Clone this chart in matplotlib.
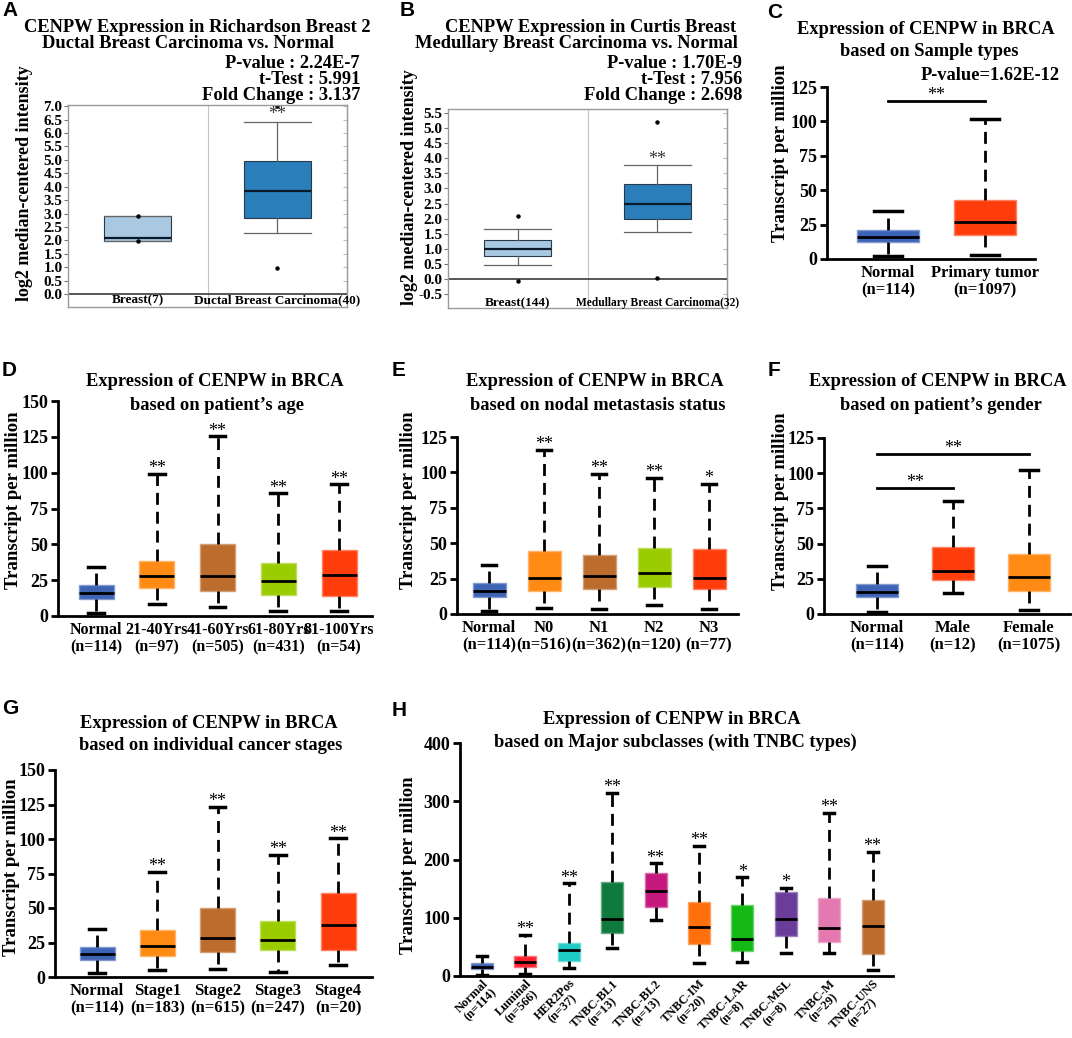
import numpy as np
import matplotlib
matplotlib.use("Agg")
import matplotlib.pyplot as plt
from matplotlib.colors import to_rgb

W, H = 1072, 1038

plt.rcParams['font.family'] = ['Liberation Serif', 'DejaVu Serif']
plt.rcParams['font.weight'] = 'bold'
plt.rcParams['axes.labelweight'] = 'bold'

# ---------------- datos ----------------
# A: Richardson Breast 2 (Oncomine)
a_labels = ["Breast(7)", "Ductal Breast Carcinoma(40)"]
a_q1 = [1.96, 2.85]
a_med = [2.09, 3.82]
a_q3 = [2.89, 4.97]
a_lo = [1.96, 2.27]
a_hi = [2.89, 6.42]
a_out = [[2.89, 1.96], [7.0, 0.97]]
a_stats = ["P-value : 2.24E-7", "t-Test : 5.991", "Fold Change : 3.137"]

# B: Curtis Breast (Oncomine)
b_labels = ["Breast(144)", "Medullary Breast Carcinoma(32)"]
b_q1 = [0.77, 2.00]
b_med = [0.99, 2.47]
b_q3 = [1.28, 3.15]
b_lo = [0.48, 1.56]
b_hi = [1.64, 3.76]
b_out = [[2.10, -0.06], [5.20, 0.05]]
b_stats = ["P-value : 1.70E-9", "t-Test : 7.956", "Fold Change : 2.698"]

# C: sample types
c_labels = ["Normal\n(n=114)", "Primary tumor\n(n=1097)"]
c_q1 = [12.4, 17.2]
c_med = [16.2, 26.6]
c_q3 = [20.8, 42.9]
c_lo = [2.4, 3.1]
c_hi = [34.6, 102.0]
c_sig = 114.6

# D: age
d_labels = ["Normal\n(n=114)", "21-40Yrs\n(n=97)", "41-60Yrs\n(n=505)",
            "61-80Yrs\n(n=431)", "81-100Yrs\n(n=54)"]
d_q1 = [11.6, 19.7, 17.6, 14.6, 14.1]
d_med = [16.2, 28.1, 27.9, 24.6, 28.5]
d_q3 = [21.4, 38.1, 49.9, 37.1, 45.7]
d_lo = [2.3, 8.4, 6.5, 3.3, 3.3]
d_hi = [34.3, 99.4, 125.3, 85.6, 91.9]
d_stars = ["", "**", "**", "**", "**"]

# E: nodal metastasis
e_labels = ["Normal\n(n=114)", "N0\n(n=516)", "N1\n(n=362)", "N2\n(n=120)", "N3\n(n=77)"]
e_q1 = [12.3, 16.3, 17.5, 19.3, 17.7]
e_med = [16.3, 25.7, 27.1, 28.8, 25.7]
e_q3 = [21.7, 44.8, 41.8, 46.9, 45.8]
e_lo = [2.4, 4.4, 3.6, 6.6, 3.6]
e_hi = [34.7, 116.0, 98.9, 96.0, 92.0]
e_stars = ["", "**", "**", "**", "*"]

# F: gender
f_labels = ["Normal\n(n=114)", "Male\n(n=12)", "Female\n(n=1075)"]
f_q1 = [11.8, 24.1, 16.3]
f_med = [15.8, 30.5, 26.2]
f_q3 = [21.3, 47.7, 42.6]
f_lo = [1.7, 15.0, 2.9]
f_hi = [34.3, 80.4, 102.6]
f_sig = [89.6, 113.5]

# G: stages
g_labels = ["Normal\n(n=114)", "Stage1\n(n=183)", "Stage2\n(n=615)",
            "Stage3\n(n=247)", "Stage4\n(n=20)"]
g_q1 = [12.3, 15.2, 18.4, 19.3, 19.3]
g_med = [16.4, 22.5, 28.5, 26.8, 37.7]
g_q3 = [21.5, 34.0, 49.8, 40.3, 60.6]
g_lo = [3.2, 4.8, 5.5, 3.6, 8.5]
g_hi = [34.8, 76.3, 123.4, 88.4, 100.5]
g_stars = ["", "**", "**", "**", "**"]

# H: subclases
h_labels = ["Normal\n(n=114)", "Luminal\n(n=566)", "HER2Pos\n(n=37)", "TNBC-BL1\n(n=13)",
            "TNBC-BL2\n(n=13)", "TNBC-IM\n(n=20)", "TNBC-LAR\n(n=8)", "TNBC-MSL\n(n=8)",
            "TNBC-M\n(n=29)", "TNBC-UNS\n(n=27)"]
h_q1 = [11.4, 16.0, 26.3, 74.4, 119.0, 54.4, 43.5, 69.2, 58.9, 37.2]
h_med = [16.0, 23.5, 44.6, 98.4, 146.5, 84.1, 63.0, 97.3, 82.9, 85.8]
h_q3 = [21.7, 34.9, 56.1, 160.8, 176.3, 126.5, 121.9, 143.7, 133.4, 130.5]
h_lo = [1.7, 3.4, 14.3, 48.6, 96.1, 22.9, 24.6, 40.0, 40.0, 10.3]
h_hi = [34.3, 70.4, 159.0, 314.7, 193.5, 223.7, 169.4, 151.0, 280.4, 213.4]
h_stars = ["", "**", "**", "**", "**", "**", "*", "*", "**", "**"]

BLUE, ORANGE, BROWN, GREEN, RED = '#3d64b5', '#ff8a14', '#bc6c2c', '#9bcc00', '#ff3d0c'
h_colors = [BLUE, '#ff1f2d', '#1fc9c4', '#0f7a3c', '#c5197d', '#ff6f0a',
            '#15b915', '#6a3d9a', '#e479b0', BROWN]

fig = plt.figure(figsize=(W / 100, H / 100), dpi=100)


def px_rect(left, top, right, bottom):
    return [left / W, 1 - bottom / H, (right - left) / W, (bottom - top) / H]


def ftext(x, y, s, **kw):
    kw.setdefault('ha', 'center')
    kw.setdefault('va', 'center')
    return fig.text(x / W, 1 - y / H, s, **kw)


def lighten(col, f):
    r, g, b = to_rgb(col)
    return (r + (1 - r) * f, g + (1 - g) * f, b + (1 - b) * f)


def set_ylabel_px(ax, rect, text, xpx, ypx, size):
    # xpx = centro del texto girado; el ancla de la etiqueta queda a su derecha
    left, top, right, bottom = rect
    ax.set_ylabel(text, fontsize=size)
    ax.yaxis.set_label_coords((xpx + 8 - left) / (right - left),
                              (bottom - ypx) / (bottom - top))


def panel_oncomine(rect, labels, q1, med, q3, lo, hi, out, colors, ylim, yticks,
                   lab_sizes, lab_y, star_y, ylab_xy):
    ax = fig.add_axes(px_rect(*rect))
    n = len(labels)
    stats = [dict(med=med[i], q1=q1[i], q3=q3[i], whislo=lo[i], whishi=hi[i], fliers=out[i])
             for i in range(n)]
    bp = ax.bxp(stats, positions=list(range(n)), widths=0.48, capwidths=0.48,
                patch_artist=True, showfliers=True,
                boxprops=dict(linewidth=0.8, edgecolor='#2b3a4a'),
                whiskerprops=dict(color='#666666', linewidth=0.9),
                capprops=dict(color='#666666', linewidth=0.9),
                medianprops=dict(color='#0a1a2a', linewidth=1.6),
                flierprops=dict(marker='o', markersize=2.2, markerfacecolor='black',
                                markeredgecolor='black'))
    for patch, col in zip(bp['boxes'], colors):
        patch.set_facecolor(col)
    ax.set_xlim(-0.5, 1.5)
    ax.set_ylim(*ylim)
    ax.axhline(0, color='#3a3a3a', lw=1.2, zorder=1)
    ax.axvline(0.5, color='#c4c4c4', lw=0.8, zorder=0)
    for sp in ax.spines.values():
        sp.set_color('#9a9a9a')
        sp.set_linewidth(1.0)
    ax.set_xticks([])
    ax.set_yticks(yticks)
    ax.set_yticklabels([f"{v:.1f}" for v in yticks], fontsize=11)
    ax.tick_params(axis='y', length=3, color='#777777', pad=1)
    sec = ax.secondary_yaxis('right')
    sec.set_yticks(yticks)
    sec.set_yticklabels([])
    sec.tick_params(direction='in', length=3, color='#bbbbbb')
    sec.spines['right'].set_color('#9a9a9a')
    for i, lab in enumerate(labels):
        ax.text(i, lab_y, lab, transform=ax.get_xaxis_transform(), ha='center', va='center',
                fontsize=lab_sizes[i])
    ax.text(1, star_y, "**", ha='center', va='center', fontsize=13, fontweight='normal',
            color='#333333')
    set_ylabel_px(ax, rect, "log2 median-centered intensity", ylab_xy[0], ylab_xy[1], 13)
    return ax


def panel_ualcan(rect, c0, step, box_px, labels, q1, med, q3, lo, hi, colors, stars,
                 ymax, ystep, ylab_xy, xsize=12, rotate=False):
    left, top, right, bottom = rect
    ax = fig.add_axes(px_rect(*rect))
    n = len(labels)
    width = box_px / step
    stats = [dict(med=med[i], q1=q1[i], q3=q3[i], whislo=lo[i], whishi=hi[i], fliers=[])
             for i in range(n)]
    bp = ax.bxp(stats, positions=list(range(n)), widths=width, capwidths=width * 0.45,
                patch_artist=True, showfliers=False,
                boxprops=dict(linewidth=1.0),
                whiskerprops=dict(color='black', linewidth=2, linestyle=(0, (4.3, 2.5))),
                capprops=dict(color='black', linewidth=2.5),
                medianprops=dict(color='black', linewidth=2))
    for patch, col in zip(bp['boxes'], colors):
        patch.set_facecolor(col)
        patch.set_edgecolor(lighten(col, 0.35))
    ax.set_xlim((left - c0) / step, (right - c0) / step)
    ax.set_ylim(0, ymax)
    for sp in ['top', 'right']:
        ax.spines[sp].set_visible(False)
    for sp in ['left', 'bottom']:
        ax.spines[sp].set_linewidth(2)
        ax.spines[sp].set_color('black')
    ax.set_yticks(np.arange(0, ymax + 1, ystep))
    ax.tick_params(axis='y', length=5, width=2, labelsize=13, pad=2)
    ax.set_xticks(list(range(n)))
    if rotate:
        ax.set_xticklabels(labels, fontsize=xsize, rotation=45, ha='right', va='top',
                           rotation_mode='anchor', multialignment='center', linespacing=1.0)
        ax.tick_params(axis='x', length=0, pad=1)
    else:
        ax.set_xticklabels(labels, fontsize=xsize, linespacing=1.15)
        ax.tick_params(axis='x', length=0, pad=4)
    for i, s in enumerate(stars):
        if s:
            ax.annotate(s, (i, hi[i]), xytext=(0, 0.5), textcoords='offset points',
                        ha='center', va='baseline', fontsize=13, fontweight='normal')
    set_ylabel_px(ax, rect, "Transcript per million", ylab_xy[0], ylab_xy[1], 13.5)
    return ax


# ---------------- A ----------------
rect_a = (68, 105, 347, 307)
panel_oncomine(rect_a, a_labels, a_q1, a_med, a_q3, a_lo, a_hi, a_out,
               ['#a9c9e2', '#2a7fba'], (-0.48, 7.04), np.arange(0, 7.01, 0.5),
               [9.5, 9.5], 0.035, 6.67, (25, 183))
ftext(2, 11, "A", ha='left', fontsize=15, family='Liberation Sans')
ftext(197, 27, "CENPW Expression in Richardson Breast 2", fontsize=13.3)
ftext(188, 44, "Ductal Breast Carcinoma vs. Normal", fontsize=13.3)
for s, y in zip(a_stats, [63, 80, 96]):
    ftext(360, y, s, ha='right', fontsize=13.3)

# ---------------- B ----------------
rect_b = (448, 109, 727, 308)
panel_oncomine(rect_b, b_labels, b_q1, b_med, b_q3, b_lo, b_hi, b_out,
               ['#a9c9e2', '#2a7fba'], (-0.96, 5.63), np.arange(-0.5, 5.51, 0.5),
               [9.5, 8.3], 0.025, 3.97, (410, 187))
ftext(400, 11, "B", ha='left', fontsize=15, family='Liberation Sans')
ftext(591, 28, "CENPW Expression in Curtis Breast", fontsize=13.3)
ftext(576, 44, "Medullary Breast Carcinoma vs. Normal", fontsize=13.3)
for s, y in zip(b_stats, [63, 79, 95]):
    ftext(742, y, s, ha='right', fontsize=13.3)

# ---------------- C ----------------
rect_c = (827, 87, 1035, 259)
ax_c = panel_ualcan(rect_c, 888, 97, 62, c_labels, c_q1, c_med, c_q3, c_lo, c_hi,
                    [BLUE, RED], ["", ""], 125, 25, (781, 153))
ax_c.plot([0, 1], [c_sig, c_sig], color='black', lw=2, clip_on=False)
ax_c.text(0.5, c_sig + 1.0, "**", ha='center', va='baseline', fontsize=13,
          fontweight='normal', clip_on=False)
ftext(767, 13, "C", ha='left', fontsize=15, family='Liberation Sans')
ftext(926, 29, "Expression of CENPW in BRCA", fontsize=13.3)
ftext(929, 52, "based on Sample types", fontsize=13.3)
ftext(1060, 76, "P-value=1.62E-12", ha='right', fontsize=13.3)

# ---------------- D ----------------
rect_d = (58, 401, 372, 616)
panel_ualcan(rect_d, 96, 60.75, 35, d_labels, d_q1, d_med, d_q3, d_lo, d_hi,
             [BLUE, ORANGE, BROWN, GREEN, RED], d_stars, 150, 25, (14, 500), xsize=11.5)
ftext(2, 370, "D", ha='left', fontsize=15, family='Liberation Sans')
ftext(215, 382, "Expression of CENPW in BRCA", fontsize=13.3)
ftext(217, 405, "based on patient\u2019s age", fontsize=13.3)

# ---------------- E ----------------
rect_e = (457, 437, 738, 614)
panel_ualcan(rect_e, 489, 55, 33, e_labels, e_q1, e_med, e_q3, e_lo, e_hi,
             [BLUE, ORANGE, BROWN, GREEN, RED], e_stars, 125, 25, (409, 500))
ftext(392, 370, "E", ha='left', fontsize=15, family='Liberation Sans')
ftext(595, 382, "Expression of CENPW in BRCA", fontsize=13.3)
ftext(598, 405, "based on nodal metastasis status", fontsize=13.3)

# ---------------- F ----------------
rect_f = (824, 438, 1070, 614)
ax_f = panel_ualcan(rect_f, 877, 76, 42, f_labels, f_q1, f_med, f_q3, f_lo, f_hi,
                    [BLUE, RED, ORANGE], ["", "", ""], 125, 25, (781, 501))
ax_f.plot([0, 1], [f_sig[0], f_sig[0]], color='black', lw=2, clip_on=False)
ax_f.plot([0, 2], [f_sig[1], f_sig[1]], color='black', lw=2, clip_on=False)
ax_f.text(0.5, f_sig[0] + 0.8, "**", ha='center', va='baseline', fontsize=13,
          fontweight='normal')
ax_f.text(1.0, f_sig[1] + 1.0, "**", ha='center', va='baseline', fontsize=13,
          fontweight='normal', clip_on=False)
ftext(768, 370, "F", ha='left', fontsize=15, family='Liberation Sans')
ftext(938, 382, "Expression of CENPW in BRCA", fontsize=13.3)
ftext(941, 405, "based on patient\u2019s gender", fontsize=13.3)

# ---------------- G ----------------
rect_g = (55, 770, 372, 977)
panel_ualcan(rect_g, 97, 60.25, 35, g_labels, g_q1, g_med, g_q3, g_lo, g_hi,
             [BLUE, ORANGE, BROWN, GREEN, RED], g_stars, 150, 25, (12, 867))
ftext(2, 709, "G", ha='left', fontsize=15, family='Liberation Sans')
ftext(209, 723, "Expression of CENPW in BRCA", fontsize=13.3)
ftext(211, 746, "based on individual cancer stages", fontsize=13.3)

# ---------------- H ----------------
rect_h = (460, 743, 893, 976)
panel_ualcan(rect_h, 482, 43.4, 22, h_labels, h_q1, h_med, h_q3, h_lo, h_hi,
             h_colors, h_stars, 400, 100, (409, 865), xsize=9, rotate=True)
ftext(392, 711, "H", ha='left', fontsize=15, family='Liberation Sans')
ftext(672, 719, "Expression of CENPW in BRCA", fontsize=13.3)
ftext(675, 742, "based on Major subclasses (with TNBC types)", fontsize=13.3)

fig.savefig("out.png", dpi=100)
